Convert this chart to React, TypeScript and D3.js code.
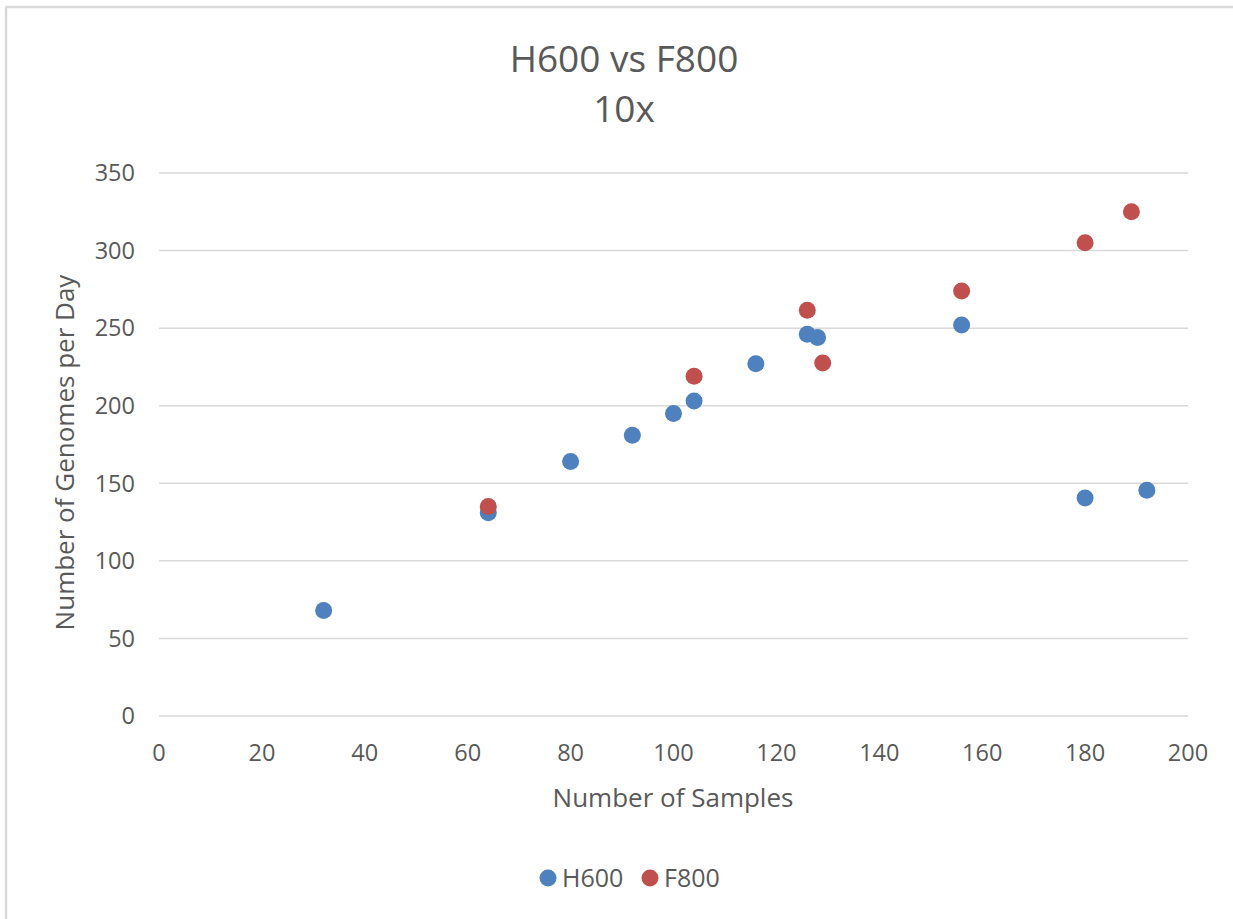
import React from "react";
import * as d3 from "d3";

const h600X = [32, 64, 80, 92, 100, 104, 116, 126, 128, 156, 180, 192];
const h600Y = [68, 131, 164, 181, 195, 203, 227, 246, 244, 252, 140.5, 145.5];
const f800X = [64, 104, 126, 129, 156, 180, 189];
const f800Y = [135, 219, 261.5, 227.5, 274, 305, 325];
const xTicks = [0, 20, 40, 60, 80, 100, 120, 140, 160, 180, 200];
const yTicks = [0, 50, 100, 150, 200, 250, 300, 350];
const seriesNames = ["H600", "F800"];

const W = 1233;
const H = 919;
const BLUE = "#4E81BD";
const RED = "#C0504D";
const TXT = "#595959";
const FONT = "'Open Sans', sans-serif";

export default function App() {
  const x = d3.scaleLinear().domain([0, 200]).range([159, 1188]);
  const y = d3.scaleLinear().domain([0, 350]).range([716, 173]);
  const h600 = h600X.map((v, i) => ({ x: v, y: h600Y[i] }));
  const f800 = f800X.map((v, i) => ({ x: v, y: f800Y[i] }));
  return (
    <svg
      width={W}
      height={H}
      style={{ position: "absolute", left: 0, top: 0, background: "#fff" }}
      fontFamily={FONT}
    >
      <rect x={0} y={0} width={W} height={H} fill="#fff" />
      <line x1={5.5} x2={W} y1={7} y2={7} stroke="#d9d9d9" strokeWidth={2.5} />
      <line x1={6} x2={6} y1={7} y2={H} stroke="#d9d9d9" strokeWidth={2.5} />
      <text x={624} y={72} textAnchor="middle" fontSize={37} fill={TXT}>H600 vs F800</text>
      <text x={624} y={122} textAnchor="middle" fontSize={37} fill={TXT}>10x</text>
      {yTicks.map((t) => (
        <g key={"y" + t}>
          <line x1={x(0)} x2={x(200)} y1={y(t)} y2={y(t)} stroke="#d9d9d9" strokeWidth={1.5} />
          <text x={135} y={y(t)} dy="0.35em" textAnchor="end" fontSize={23.5} fill={TXT}>{t}</text>
        </g>
      ))}
      {xTicks.map((t) => (
        <text key={"x" + t} x={x(t)} y={753} dy="0.35em" textAnchor="middle" fontSize={23.5} fill={TXT}>{t}</text>
      ))}
      <text x={673} y={798} dy="0.35em" textAnchor="middle" fontSize={26} fill={TXT}>Number of Samples</text>
      <text transform={`translate(65,${(y(0) + y(350)) / 2 + 8}) rotate(-90)`} dy="0.35em" textAnchor="middle" fontSize={26} fill={TXT}>Number of Genomes per Day</text>
      {h600.map((d, i) => (
        <circle key={"h" + i} cx={x(d.x)} cy={y(d.y)} r={8.5} fill={BLUE} />
      ))}
      {f800.map((d, i) => (
        <circle key={"f" + i} cx={x(d.x)} cy={y(d.y)} r={8.5} fill={RED} />
      ))}
      <circle cx={548} cy={878} r={8.5} fill={BLUE} />
      <text x={562} y={878} dy="0.35em" fontSize={25} fill={TXT}>{seriesNames[0]}</text>
      <circle cx={650} cy={878} r={8.5} fill={RED} />
      <text x={664} y={878} dy="0.35em" fontSize={25} fill={TXT}>{seriesNames[1]}</text>
    </svg>
  );
}
